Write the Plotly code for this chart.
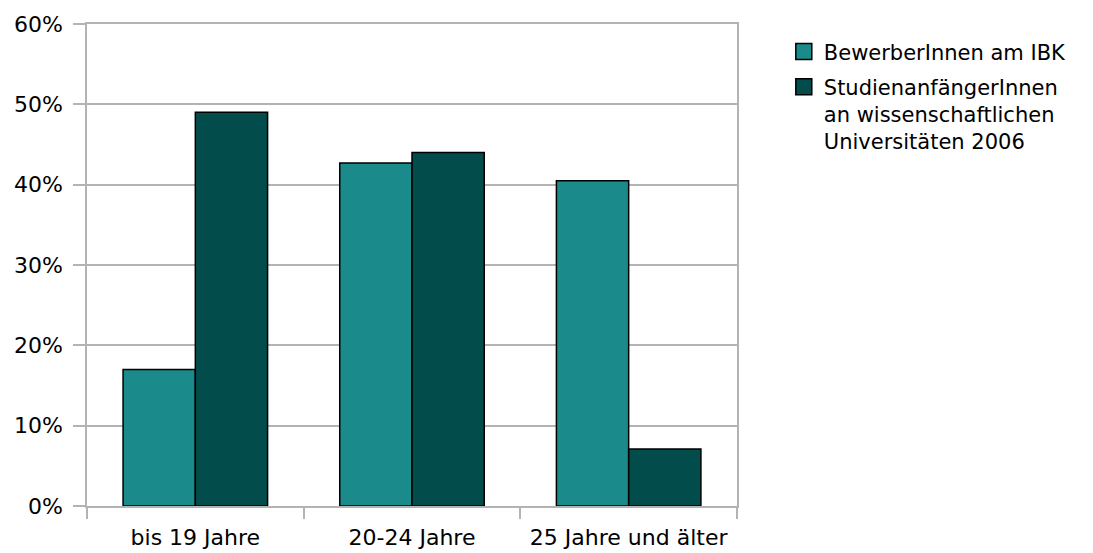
import plotly.graph_objects as go

categories = ["bis 19 Jahre", "20-24 Jahre", "25 Jahre und älter"]
series_names = ["BewerberInnen am IBK",
                "StudienanfängerInnen<br>an wissenschaftlichen<br>Universitäten 2006"]
bewerber = [0.17, 0.427, 0.405]
studienanf = [0.49, 0.44, 0.071]
y_ticks = [0, 0.1, 0.2, 0.3, 0.4, 0.5, 0.6]

teal = "#1a8a8a"
dark = "#034c4c"
grid = "#b3b3b3"
font_family = "DejaVu Sans"

fig = go.Figure()
for vals, name, col, grp in [(bewerber, series_names[0], teal, "a"),
                             (studienanf, series_names[1], dark, "b")]:
    fig.add_trace(go.Bar(x=categories, y=vals, name=name,
                         marker=dict(color=col, line=dict(color="black", width=1.5)),
                         legendgroup=grp, showlegend=False))
    # legend entry with a larger square symbol
    fig.add_trace(go.Scatter(x=[None], y=[None], mode="markers", name=name,
                             marker=dict(symbol="square", size=18, color=col,
                                         line=dict(color="black", width=1.5)),
                             legendgroup=grp, showlegend=True, hoverinfo="skip"))

fig.update_layout(
    width=1093, height=553,
    margin=dict(l=79, r=364, t=16, b=55, autoexpand=False),
    paper_bgcolor="white", plot_bgcolor="white",
    barmode="group", bargap=0.333, bargroupgap=0,
    font=dict(family=font_family, size=22, color="black"),
    showlegend=True,
    legend=dict(x=1.072, xanchor="left", y=0.985, yanchor="top",
                font=dict(family=font_family, size=21, color="black"),
                valign="top", tracegroupgap=5, bgcolor="rgba(0,0,0,0)",
                traceorder="grouped", itemsizing="trace"),
    xaxis=dict(showline=True, linecolor=grid, linewidth=1.5, mirror=True,
               ticks="outside", tickson="boundaries", ticklen=11, tickcolor=grid,
               tickwidth=1.5, showgrid=False, tickfont=dict(size=22),
               tickangle=0, automargin=False, ticklabelstandoff=11),
    yaxis=dict(range=[0, 0.6], tickvals=y_ticks, tickformat=".0%",
               showline=True, linecolor=grid, linewidth=1.5, mirror=True,
               ticks="outside", ticklen=12, tickcolor=grid, tickwidth=1.5,
               showgrid=True, gridcolor=grid, gridwidth=1.5, zeroline=False,
               tickfont=dict(size=22), automargin=False, ticklabelstandoff=6),
)

fig.write_html("out.html")
